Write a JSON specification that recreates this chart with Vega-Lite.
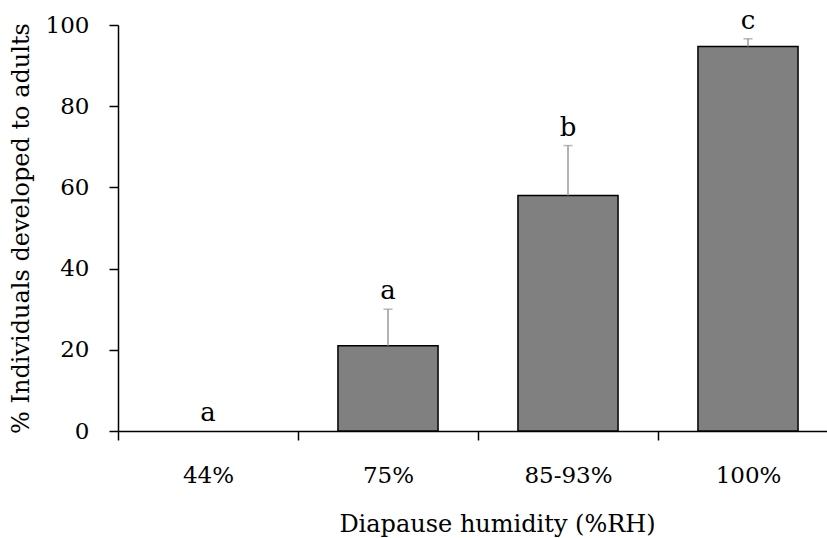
{
  "$schema": "https://vega.github.io/schema/vega-lite/v6.json",
  "width": 720,
  "height": 406,
  "autosize": {"type": "none"},
  "padding": {"left": 118, "top": 25, "right": 0, "bottom": 107},
  "background": "white",
  "data": {
    "values": [
      {"humidity": "44%", "mean": 0, "upper": 0, "letter": "a"},
      {"humidity": "75%", "mean": 21, "upper": 30, "letter": "a"},
      {"humidity": "85-93%", "mean": 58, "upper": 70.3, "letter": "b"},
      {"humidity": "100%", "mean": 94.7, "upper": 96.6, "letter": "c"}
    ]
  },
  "encoding": {
    "x": {
      "field": "humidity",
      "type": "nominal",
      "sort": null,
      "scale": {"domain": ["44%", "75%", "85-93%", "100%"], "paddingInner": 0, "paddingOuter": 0},
      "axis": {
        "title": "Diapause humidity (%RH)",
        "labelAngle": 0,
        "tickBand": "extent",
        "tickSize": 9,
        "tickColor": "black",
        "tickWidth": 1.5,
        "domainColor": "black",
        "domainWidth": 1.5,
        "labelFontSize": 23,
        "labelPadding": 24,
        "labelColor": "black",
        "titleFontSize": 24,
        "titleFontWeight": "normal",
        "titleColor": "black",
        "titleX": 379,
        "titleY": 100,
        "titleAlign": "center",
        "titleBaseline": "alphabetic"
      }
    }
  },
  "layer": [
    {
      "transform": [{"filter": "datum.mean > 0"}],
      "mark": {"type": "bar", "fill": "#808080", "stroke": "black", "strokeWidth": 1.5, "width": {"band": 0.556}},
      "encoding": {
        "y": {
          "field": "mean",
          "type": "quantitative",
          "scale": {"domain": [0, 100], "nice": false},
          "axis": {
            "title": "% Individuals developed to adults",
            "values": [0, 20, 40, 60, 80, 100],
            "grid": false,
            "tickSize": 9,
            "tickColor": "black",
            "tickWidth": 1.5,
            "domainColor": "black",
            "domainWidth": 1.5,
            "labelFontSize": 23,
            "labelPadding": 20,
            "labelColor": "black",
            "titleFontSize": 24,
            "titleFontWeight": "normal",
            "titleColor": "black",
            "titleX": -90,
            "titleY": 203,
            "titleAngle": 270,
            "titleAlign": "center",
            "titleBaseline": "alphabetic"
          }
        }
      }
    },
    {
      "transform": [{"filter": "datum.upper > datum.mean"}],
      "mark": {"type": "rule", "color": "#999999", "strokeWidth": 1.5},
      "encoding": {
        "y": {"field": "mean", "type": "quantitative"},
        "y2": {"field": "upper"}
      }
    },
    {
      "transform": [{"filter": "datum.upper > datum.mean"}],
      "mark": {"type": "tick", "color": "#999999", "size": 9, "thickness": 1.5},
      "encoding": {
        "y": {"field": "upper", "type": "quantitative"}
      }
    },
    {
      "mark": {"type": "text", "fontSize": 26, "baseline": "alphabetic", "dy": -10, "color": "black"},
      "encoding": {
        "y": {"field": "upper", "type": "quantitative"},
        "text": {"field": "letter"}
      }
    }
  ],
  "config": {"view": {"stroke": null}, "font": "DejaVu Serif"}
}
